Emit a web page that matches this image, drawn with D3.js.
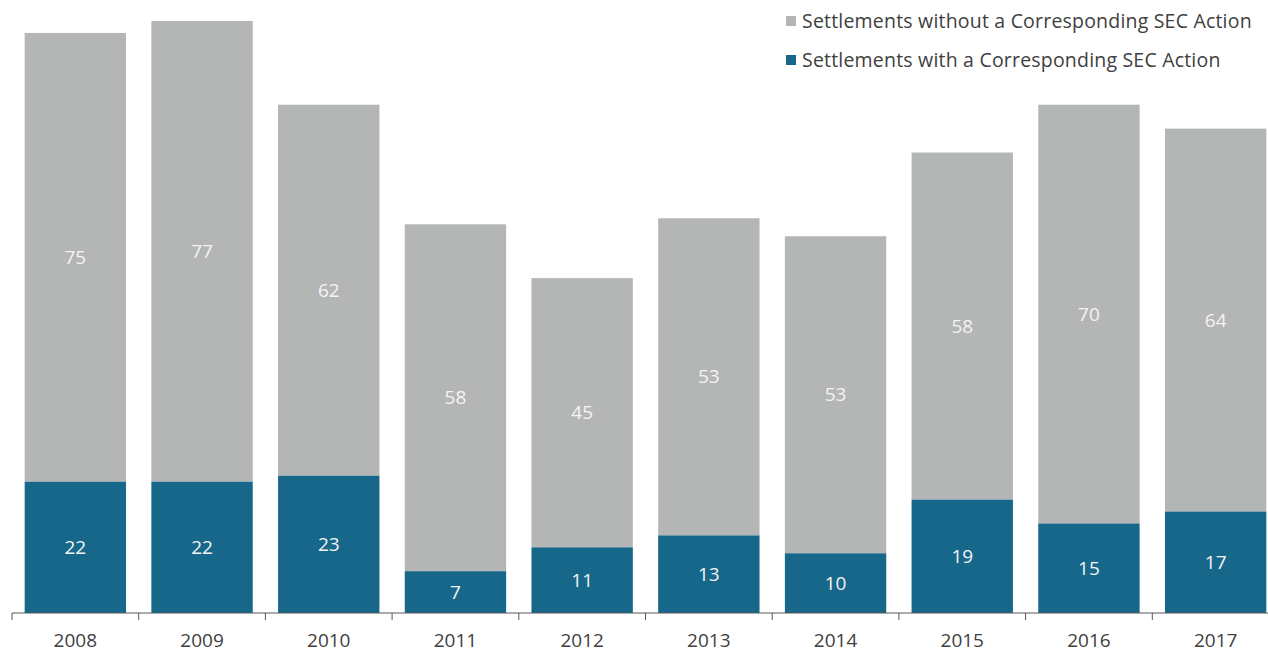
<!DOCTYPE html>
<html>
<head>
<meta charset="utf-8">
<script src="https://cdn.jsdelivr.net/npm/d3@7"></script>
<style>
  html, body { margin: 0; padding: 0; background: #fff; }
  svg { display: block; font-family: "Open Sans", "Noto Sans", sans-serif; }
</style>
</head>
<body>
<svg id="chart" width="1268" height="653"></svg>
<script>
const years = ["2008", "2009", "2010", "2011", "2012", "2013", "2014", "2015", "2016", "2017"];
const withSEC = [22, 22, 23, 7, 11, 13, 10, 19, 15, 17];
const withoutSEC = [75, 77, 62, 58, 45, 53, 53, 58, 70, 64];
const seriesNames = ["Settlements without a Corresponding SEC Action", "Settlements with a Corresponding SEC Action"];

const colors = { with: "#16678a", without: "#b4b5b5" };

const svg = d3.select("#chart");

const x = d3.scaleBand()
  .domain(years)
  .range([12, 1279])
  .paddingInner(0.2)
  .paddingOuter(0.1);

const y = d3.scaleLinear().domain([0, 100]).range([613, 15]);

const rows = years.map((yr, i) => ({ year: yr, with: withSEC[i], without: withoutSEC[i] }));
const stacked = d3.stack().keys(["with", "without"])(rows);

const layers = svg.append("g").selectAll("g")
  .data(stacked)
  .join("g")
  .attr("fill", d => colors[d.key]);

layers.selectAll("rect")
  .data(d => d)
  .join("rect")
  .attr("x", d => x(d.data.year))
  .attr("width", x.bandwidth())
  .attr("y", d => y(d[1]))
  .attr("height", d => y(d[0]) - y(d[1]));

// value labels centred in each segment
layers.selectAll("text")
  .data(d => d.map(p => ({ p, key: d.key })))
  .join("text")
  .attr("x", d => x(d.p.data.year) + x.bandwidth() / 2)
  .attr("y", d => (y(d.p[0]) + y(d.p[1])) / 2)
  .attr("dy", "0.35em")
  .attr("text-anchor", "middle")
  .attr("fill", "#f4f4f4")
  .attr("font-size", 19)
  .text(d => d.p.data[d.key]);

// category axis with ticks between bands
const axisG = svg.append("g").attr("transform", "translate(0,613)");
axisG.append("line")
  .attr("x1", 12).attr("x2", 1268)
  .attr("stroke", "#595959").attr("stroke-width", 1);
const step = x.step();
const boundaries = years.map(yr => x(yr) - (step - x.bandwidth()) / 2);
axisG.selectAll("line.tick")
  .data(boundaries)
  .join("line")
  .attr("class", "tick")
  .attr("x1", d => d).attr("x2", d => d)
  .attr("y1", 0).attr("y2", 7)
  .attr("stroke", "#595959");
axisG.selectAll("text")
  .data(years)
  .join("text")
  .attr("x", d => x(d) + x.bandwidth() / 2)
  .attr("y", 27)
  .attr("dy", "0.35em")
  .attr("text-anchor", "middle")
  .attr("fill", "#404040")
  .attr("font-size", 19)
  .text(d => d);

// legend
const legend = svg.append("g");
const legendItems = [
  { name: seriesNames[0], color: colors.without, cy: 21 },
  { name: seriesNames[1], color: colors.with, cy: 60 }
];
legend.selectAll("rect")
  .data(legendItems)
  .join("rect")
  .attr("x", 786).attr("y", d => d.cy - 5)
  .attr("width", 10).attr("height", 10)
  .attr("fill", d => d.color);
legend.selectAll("text")
  .data(legendItems)
  .join("text")
  .attr("x", 802).attr("y", d => d.cy)
  .attr("dy", "0.35em")
  .attr("fill", "#404040")
  .attr("font-size", 19.5)
  .attr("letter-spacing", 0.2)
  .text(d => d.name);
</script>
</body>
</html>
